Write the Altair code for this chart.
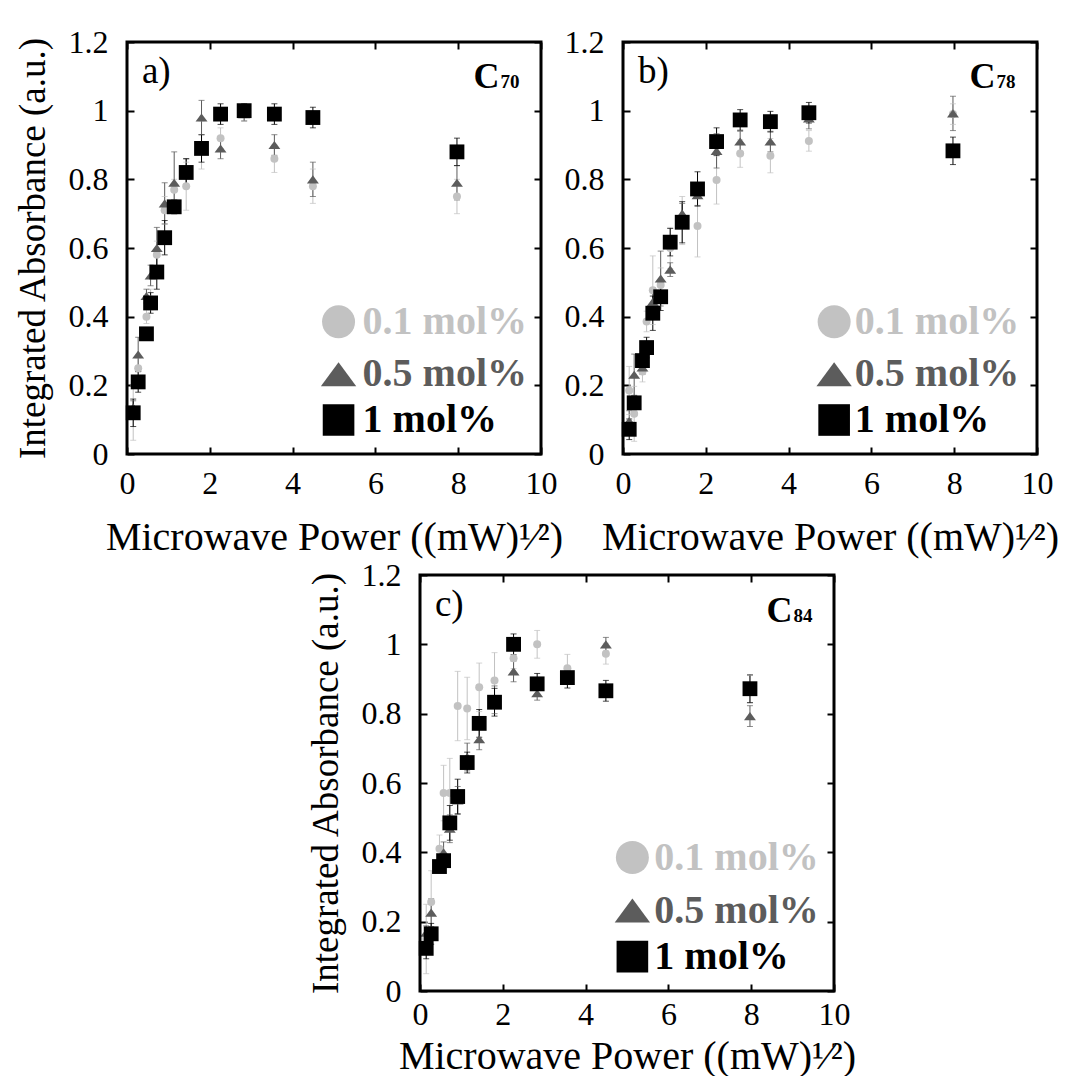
import altair as alt
import pandas as pd

# ---------------- data ----------------
X = [0.15, 0.27, 0.47, 0.57, 0.72, 0.91, 1.14, 1.43, 1.80, 2.26, 2.83, 3.56, 4.49, 7.97]
SERIES = ["0.1 mol%", "0.5 mol%", "1 mol%"]

# panel a) C70
A_01 = [0.12, 0.25, 0.40, 0.45, 0.58, 0.71, 0.77, 0.78, 0.90, 0.92, 0.99, 0.86, 0.78, 0.75]
A_01_ERR = [0.08, 0.03, 0.02, 0.03, 0.04, 0.04, 0.03, 0.07, 0.07, 0.03, 0.02, 0.04, 0.05, 0.05]
A_05 = [0.135, 0.29, 0.46, 0.52, 0.60, 0.73, 0.79, 0.82, 0.98, 0.89, 0.99, 0.90, 0.80, 0.79]
A_05_ERR = [0.02, 0.05, 0.02, 0.03, 0.06, 0.06, 0.09, 0.04, 0.05, 0.03, 0.02, 0.03, 0.05, 0.05]
A_1 = [0.12, 0.21, 0.35, 0.44, 0.53, 0.63, 0.72, 0.82, 0.89, 0.99, 1.00, 0.99, 0.98, 0.88]
A_1_ERR = [0.04, 0.03, 0.01, 0.03, 0.05, 0.05, 0.02, 0.04, 0.04, 0.03, 0.02, 0.03, 0.03, 0.04]

# panel b) C78
B_01 = [0.185, 0.117, 0.24, 0.386, 0.477, 0.492, 0.60, 0.68, 0.664, 0.798, 0.875, 0.869, 0.912, 0.99]
B_01_ERR = [0.07, 0.08, 0.03, 0.03, 0.10, 0.05, 0.06, 0.07, 0.09, 0.07, 0.04, 0.05, 0.03, 0.03]
B_05 = [0.096, 0.231, 0.252, 0.308, 0.443, 0.511, 0.537, 0.70, 0.754, 0.883, 0.91, 0.91, 0.977, 0.992]
B_05_ERR = [0.03, 0.06, 0.02, 0.02, 0.04, 0.08, 0.02, 0.03, 0.03, 0.05, 0.03, 0.03, 0.03, 0.05]
B_1 = [0.072, 0.149, 0.272, 0.31, 0.41, 0.458, 0.617, 0.675, 0.772, 0.91, 0.973, 0.968, 0.994, 0.883]
B_1_ERR = [0.03, 0.02, 0.02, 0.03, 0.05, 0.04, 0.04, 0.06, 0.05, 0.04, 0.03, 0.03, 0.03, 0.04]

# panel c) C84
C_01 = [0.15, 0.257, 0.41, 0.571, 0.571, 0.822, 0.815, 0.876, 0.896, 0.96, 1.0, 0.931, 0.973, 0.87]
C_01_ERR = [0.10, 0.09, 0.04, 0.08, 0.10, 0.10, 0.09, 0.07, 0.08, 0.03, 0.04, 0.04, 0.03, 0.04]
C_05 = [0.168, 0.226, 0.352, 0.40, 0.468, 0.55, 0.675, 0.726, 0.84, 0.922, 0.859, 0.912, 1.0, 0.793]
C_05_ERR = [0.02, 0.04, 0.01, 0.03, 0.04, 0.04, 0.04, 0.03, 0.04, 0.03, 0.02, 0.02, 0.02, 0.03]
C_1 = [0.123, 0.165, 0.359, 0.376, 0.485, 0.561, 0.659, 0.772, 0.833, 1.0, 0.886, 0.904, 0.866, 0.872]
C_1_ERR = [0.03, 0.03, 0.01, 0.02, 0.05, 0.05, 0.03, 0.04, 0.04, 0.03, 0.03, 0.03, 0.03, 0.04]

X_TICKS = [0, 2, 4, 6, 8, 10]
Y_TICKS = [0, 0.2, 0.4, 0.6, 0.8, 1, 1.2]

# ---------------- styling ----------------
FONT = "Liberation Serif"
COLORS = ["#c2c2c2", "#5c5c5c", "#000000"]
TRI = "M0,-0.68L1,0.68L-1,0.68Z"
SHAPES = ["circle", TRI, "square"]
PT_SIZES = [64, 220, 100]
LEG_SIZES = [1090, 1250, 1000]
W = 414

color_enc = alt.Color("series:N", scale=alt.Scale(domain=SERIES, range=COLORS), legend=None)
shape_enc = alt.Shape("series:N", scale=alt.Scale(domain=SERIES, range=SHAPES), legend=None)
xs = alt.Scale(domain=[0, 10], nice=False, zero=False)
ys = alt.Scale(domain=[0, 1.2], nice=False, zero=False)

X_TITLE = "Microwave Power ((mW)\u00b9\u2044\u00b2)"
Y_TITLE = "Integrated Absorbance (a.u.)"

TICK = 7


def x_axis(label_pad, title_pad):
    return alt.Axis(orient="bottom", values=X_TICKS, format="d", title=X_TITLE,
                    domain=False, grid=False, ticks=True, tickSize=TICK, tickWidth=2,
                    tickColor="black", offset=-TICK, labelPadding=label_pad,
                    labelFont=FONT, labelFontSize=32, labelColor="black",
                    labelFlush=False, labelOverlap=False,
                    titleFont=FONT, titleFontSize=40, titleFontWeight="normal",
                    titleColor="black", titlePadding=title_pad)


def y_axis(show_title):
    kw = dict(orient="left", values=Y_TICKS, format="~g",
              domain=False, grid=False, ticks=True, tickSize=TICK, tickWidth=2,
              tickColor="black", offset=-TICK, labelPadding=19,
              labelFont=FONT, labelFontSize=32, labelColor="black",
              labelFlush=False, labelOverlap=False)
    if show_title:
        kw.update(title=Y_TITLE, titleFont=FONT, titleFontSize=37,
                  titleFontWeight="normal", titleColor="black", titlePadding=16)
    else:
        kw.update(title=None)
    return alt.Axis(**kw)


def mirror_axis(orient, values):
    return alt.Axis(orient=orient, values=values, labels=False, title=None,
                    domain=False, grid=False, ticks=True, tickSize=TICK, tickWidth=2,
                    tickColor="black", offset=-TICK)


def panel(letter, sub, vals, errs, show_ytitle, leg_x, txt_x, label_pad, title_pad, height):
    rows = []
    for s, v, e in zip(SERIES, vals, errs):
        for xi, yi, ei in zip(X, v, e):
            rows.append(dict(x=xi, y=yi, lo=yi - ei, hi=yi + ei, series=s))
    df = pd.DataFrame(rows)
    base = alt.Chart(df)

    bars = base.mark_rule(strokeWidth=1).encode(
        x=alt.X("x:Q", scale=xs, axis=None),
        y=alt.Y("lo:Q", scale=ys, axis=None), y2="hi:Q",
        color=color_enc)
    cap_hi = base.mark_tick(thickness=1, size=6, orient="horizontal").encode(
        x=alt.X("x:Q", scale=xs, axis=None),
        y=alt.Y("hi:Q", scale=ys, axis=None), color=color_enc)
    cap_lo = base.mark_tick(thickness=1, size=6, orient="horizontal").encode(
        x=alt.X("x:Q", scale=xs, axis=None),
        y=alt.Y("lo:Q", scale=ys, axis=None), color=color_enc)
    pts = base.mark_point(filled=True, opacity=1, strokeWidth=0).encode(
        x=alt.X("x:Q", scale=xs, axis=x_axis(label_pad, title_pad)),
        y=alt.Y("y:Q", scale=ys, axis=y_axis(show_ytitle)),
        color=color_enc, shape=shape_enc,
        size=alt.Size("series:N", scale=alt.Scale(domain=SERIES, range=PT_SIZES), legend=None))
    mirror = base.mark_point(opacity=0).encode(
        x=alt.X("x:Q", scale=xs, axis=mirror_axis("top", X_TICKS)),
        y=alt.Y("y:Q", scale=ys, axis=mirror_axis("right", Y_TICKS)))

    # plot frame
    frame = alt.Chart(pd.DataFrame({"x0": [0], "x1": [10], "y0": [0], "y1": [1.2]})).mark_rect(
        filled=False, stroke="black", strokeWidth=3, strokeOpacity=1).encode(
        x=alt.X("x0:Q", scale=xs, axis=None), x2="x1:Q",
        y=alt.Y("y0:Q", scale=ys, axis=None), y2="y1:Q")

    # in-plot legend
    leg_y = [0.385, 0.232, 0.099]
    legend_layers = []
    for s, ly, sz in zip(SERIES, leg_y, LEG_SIZES):
        ldf = pd.DataFrame({"x": [leg_x], "tx": [txt_x], "y": [ly], "series": [s]})
        legend_layers.append(alt.Chart(ldf).mark_point(filled=True, opacity=1, strokeWidth=0).encode(
            x=alt.X("x:Q", scale=xs, axis=None), y=alt.Y("y:Q", scale=ys, axis=None),
            color=color_enc, shape=shape_enc, size=alt.value(sz)))
        legend_layers.append(alt.Chart(ldf).mark_text(
            font=FONT, fontSize=40, fontWeight="bold", align="left", baseline="middle").encode(
            x=alt.X("tx:Q", scale=xs, axis=None), y=alt.Y("y:Q", scale=ys, axis=None),
            color=color_enc, text="series:N"))

    lab = alt.Chart(pd.DataFrame({"x": [0.36], "y": [1.081], "t": [letter + ")"]})).mark_text(
        font=FONT, fontSize=37, align="left", baseline="alphabetic", color="black").encode(
        x=alt.X("x:Q", scale=xs, axis=None), y=alt.Y("y:Q", scale=ys, axis=None), text="t:N")
    cbig = alt.Chart(pd.DataFrame({"x": [9.0], "y": [1.065], "t": ["C"]})).mark_text(
        font=FONT, fontSize=36, fontWeight="bold", align="right", baseline="alphabetic",
        color="black").encode(
        x=alt.X("x:Q", scale=xs, axis=None), y=alt.Y("y:Q", scale=ys, axis=None), text="t:N")
    csub = alt.Chart(pd.DataFrame({"x": [9.02], "y": [1.065], "t": [sub]})).mark_text(
        font=FONT, fontSize=19, fontWeight="bold", align="left", baseline="alphabetic",
        color="black").encode(
        x=alt.X("x:Q", scale=xs, axis=None), y=alt.Y("y:Q", scale=ys, axis=None), text="t:N")

    layer = alt.layer(bars, cap_hi, cap_lo, pts, mirror, lab, cbig, csub, *legend_layers, frame)
    return layer.resolve_axis(x="independent", y="independent").properties(width=W, height=height)


pa = panel("a", "70", [A_01, A_05, A_1], [A_01_ERR, A_05_ERR, A_1_ERR], True, 5.11, 5.69, 14, 18, 412)
pb = panel("b", "78", [B_01, B_05, B_1], [B_01_ERR, B_05_ERR, B_1_ERR], False, 5.10, 5.60, 14, 18, 412)
pc = panel("c", "84", [C_01, C_05, C_1], [C_01_ERR, C_05_ERR, C_1_ERR], True, 5.13, 5.66, 8, 6, 416)

spacer = alt.Chart(pd.DataFrame({"v": [0]})).mark_point(opacity=0).properties(
    width=170, height=10)

row1 = alt.hconcat(pa, pb, spacing=1)
row2 = alt.hconcat(spacer, pc, spacing=10)
chart = alt.vconcat(row1, row2, spacing=2).properties(
    padding={"left": 6, "top": 18, "right": 0, "bottom": 0}
).configure_view(strokeOpacity=0)

chart.save("out.html", embed_options={"renderer": "svg", "actions": False})
